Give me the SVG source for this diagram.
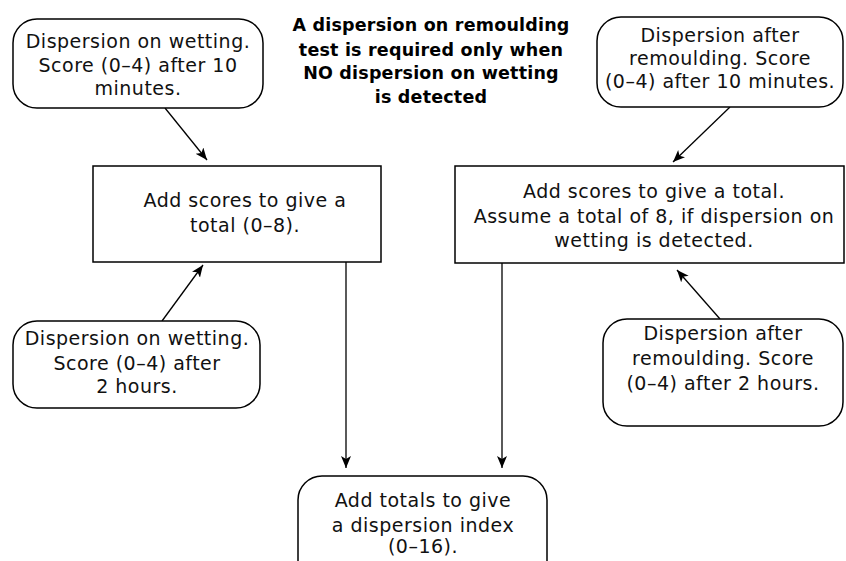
<svg xmlns="http://www.w3.org/2000/svg" width="846" height="561" viewBox="0 0 846 561">
<style>
.box{fill:#fff;stroke:#000;stroke-width:1.5}
.t{font-family:"DejaVu Sans","Liberation Sans",sans-serif;font-size:19px;letter-spacing:0.5px;fill:#111;text-anchor:middle}
.b{font-family:"DejaVu Sans","Liberation Sans",sans-serif;font-size:17.5px;font-weight:bold;letter-spacing:0.2px;fill:#000;text-anchor:middle}
.c{stroke:#000;stroke-width:1.3;fill:none}
</style>
<defs>
<marker id="ah" markerWidth="14" markerHeight="12" refX="12" refY="5" orient="auto" markerUnits="userSpaceOnUse">
<path d="M0,0 L12,5 L0,10 L3,5 z" fill="#000"/>
</marker>
</defs>
<rect width="846" height="561" fill="#fff"/>
<g id="connectors">
<line class="c" x1="165" y1="108" x2="207" y2="160" marker-end="url(#ah)"/>
<line class="c" x1="162" y1="321" x2="203" y2="265" marker-end="url(#ah)"/>
<line class="c" x1="730" y1="107" x2="673" y2="162" marker-end="url(#ah)"/>
<line class="c" x1="720" y1="319" x2="677" y2="270" marker-end="url(#ah)"/>
<line class="c" x1="346" y1="262" x2="346" y2="468" marker-end="url(#ah)"/>
<line class="c" x1="502" y1="263" x2="502" y2="468" marker-end="url(#ah)"/>
</g>
<g id="note">
<text class="b" x="431" y="31">A dispersion on remoulding</text>
<text class="b" x="431" y="56">test is required only when</text>
<text class="b" x="431" y="79">NO dispersion on wetting</text>
<text class="b" x="431" y="103">is detected</text>
</g>
<g id="wet10">
<rect class="box" x="13" y="19" width="250" height="89" rx="24"/>
<text class="t" x="138" y="48">Dispersion on wetting.</text>
<text class="t" x="138" y="72">Score (0–4) after 10</text>
<text class="t" x="138" y="95">minutes.</text>
</g>
<g id="rem10">
<rect class="box" x="597" y="17" width="246" height="90" rx="24"/>
<text class="t" x="720" y="42">Dispersion after</text>
<text class="t" x="720" y="65">remoulding. Score</text>
<text class="t" x="720" y="88">(0–4) after 10 minutes.</text>
</g>
<g id="sumWet">
<rect class="box" x="93" y="166" width="288" height="96"/>
<text class="t" x="245" y="207">Add scores to give a</text>
<text class="t" x="245" y="232">total (0–8).</text>
</g>
<g id="sumRem">
<rect class="box" x="455" y="166" width="389" height="97"/>
<text class="t" x="654" y="198">Add scores to give a total.</text>
<text class="t" x="654" y="223">Assume a total of 8, if dispersion on</text>
<text class="t" x="654" y="247">wetting is detected.</text>
</g>
<g id="wet2h">
<rect class="box" x="13" y="321" width="247" height="87" rx="24"/>
<text class="t" x="137" y="345">Dispersion on wetting.</text>
<text class="t" x="137" y="370">Score (0–4) after</text>
<text class="t" x="137" y="393">2 hours.</text>
</g>
<g id="rem2h">
<rect class="box" x="603" y="319" width="240" height="107" rx="24"/>
<text class="t" x="723" y="340">Dispersion after</text>
<text class="t" x="723" y="365">remoulding. Score</text>
<text class="t" x="723" y="390">(0–4) after 2 hours.</text>
</g>
<g id="index">
<rect class="box" x="298" y="476" width="249" height="110" rx="24"/>
<text class="t" x="423" y="507">Add totals to give</text>
<text class="t" x="423" y="532">a dispersion index</text>
<text class="t" x="423" y="553">(0–16).</text>
</g>
</svg>
